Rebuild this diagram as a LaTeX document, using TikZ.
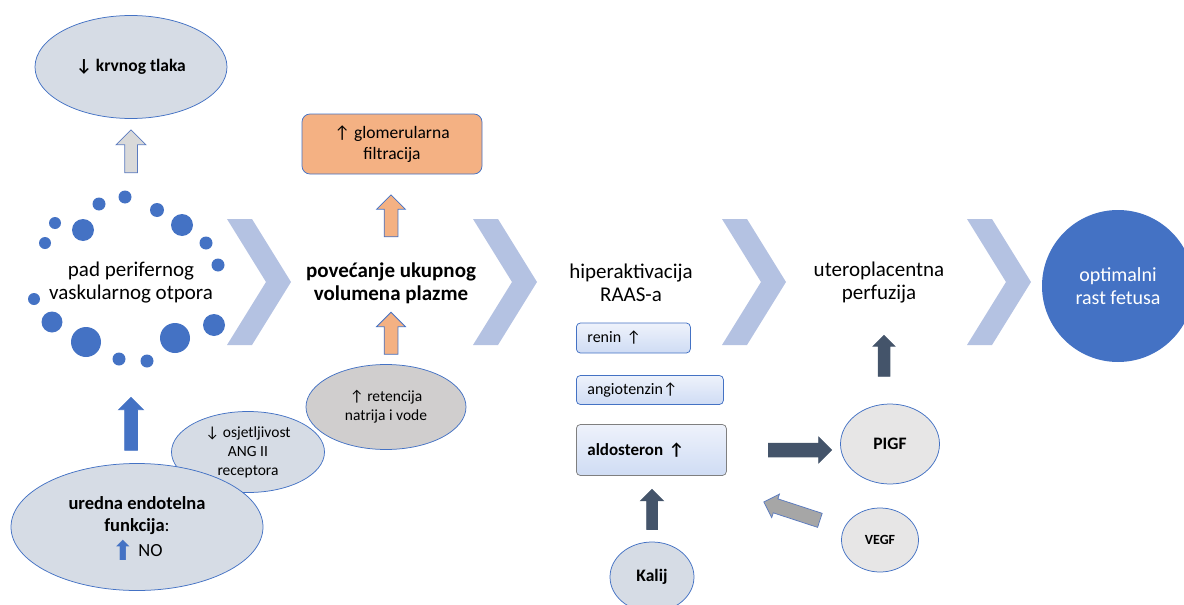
\documentclass[tikz,border=0pt]{standalone}
\usepackage{fontspec}
\setmainfont{Carlito}
\newfontfamily\arrfont{DejaVu Sans}
\usetikzlibrary{shapes.geometric,shapes.arrows}
\definecolor{blu}{HTML}{4472C4}
\definecolor{ellb}{HTML}{D6DCE5}
\definecolor{retf}{HTML}{D0CECE}
\definecolor{pgf}{HTML}{E7E6E6}
\definecolor{orng}{HTML}{F4B183}
\definecolor{drk}{HTML}{44546A}
\definecolor{mgry}{HTML}{A6A6A6}
\definecolor{ltgry}{HTML}{D9D9D9}
\definecolor{arrb}{HTML}{5B7BBF}
\definecolor{chev}{HTML}{B4C2E2}
\definecolor{bxtop}{HTML}{EEF2FB}
\definecolor{bxbot}{HTML}{CFDCF4}
\definecolor{gry}{HTML}{7F7F7F}
\newcommand{\arrup}{↑}
\newcommand{\arrdn}{↓}
\begin{document}
\begin{tikzpicture}[x=1pt,y=-1pt,
    txt/.style={align=center,inner sep=0pt},
    bubble/.style={ellipse,draw=blu,line width=.75pt,inner sep=0pt,align=center},
    bx/.style={rectangle,rounded corners=4pt,draw=blu,line width=.75pt,top color=bxtop,bottom color=bxbot,
        anchor=west,align=left,inner xsep=11pt,font=\fontsize{16}{19}\selectfont},
    fat/.style n args={3}{single arrow,sloped,allow upside down,anchor=tail,inner xsep=0pt,inner ysep={#2*0.5pt},
        minimum width={#3*1pt},minimum height={#1*1pt},single arrow head extend={(#3-#2)*0.5pt},line width=.75pt}]
    \useasboundingbox (0,0) rectangle (1184,605);
    \foreach \x in {227,473,722,967}
        \fill[chev] (\x,219) -- (\x+25,219) -- (\x+64,282) -- (\x+25,345) -- (\x,345) -- (\x+39,282) -- cycle;
    \foreach \x/\y/\r in
        { 125/197/6.5, 99/204/6.5, 157/210/7, 55/223/6, 83/230/11, 182/225/11
        , 45/243/6, 206/243/6.5, 218/265/6.5, 34/299/6, 52/322/10.5, 86/342/15
        , 119/359/6.5, 147/361/6.5, 175/338/15, 214/325/11
        }
        \fill[blu] (\x,\y) circle (\r pt);

    \node[bubble,fill=ellb,minimum width=192pt,minimum height=103pt,font=\bfseries\fontsize{17.5}{20}\selectfont] (krvni) at (131,67) {\arrdn\ krvnog tlaka};
    \node[txt,font=\fontsize{21}{23}\selectfont] (otpor) at (131,283) {pad perifernog\\vaskularnog otpora};
    \node[bubble,fill=ellb,minimum width=153pt,minimum height=81pt,font=\fontsize{15.5}{19}\selectfont] (angii) at (248,452) {\arrdn\ osjetljivost\\ANG II\\receptora};
    \node[bubble,fill=ellb,minimum width=252pt,minimum height=127pt,font=\fontsize{18.5}{22}\selectfont] (endo) at (137,527) {\textbf{uredna endotelna}\\\textbf{funkcija}:\\[3pt]{\color{blu}\arrfont\fontsize{27}{22}\selectfont\smash{\raisebox{-4pt}{⬆}}}\ NO};

    \node[rectangle,rounded corners=8pt,draw=blu,line width=.75pt,fill=orng,align=center,minimum width=180pt,minimum height=60pt,font=\fontsize{17.5}{21}\selectfont] (glom) at (392,144) {\arrup\ glomerularna\\filtracija};
    \node[txt,font=\bfseries\fontsize{21}{23}\selectfont] (vol) at (391,283) {povećanje ukupnog\\volumena plazme};
    \node[bubble,fill=retf,minimum width=160pt,minimum height=85pt,font=\fontsize{15.5}{19}\selectfont] (ret) at (386,407) {\arrup\ retencija\\natrija i vode};

    \node[txt,font=\fontsize{21}{23}\selectfont] (raas) at (631,283) {hiperaktivacija\\RAAS-a};
    \node[bx,text width=92pt,minimum height=30pt] (renin) at (576,338) {renin \arrup};
    \node[bx,text width=125pt,minimum height=29pt] (angio) at (576,390) {angiotenzin\arrup};
    \node[bx,draw=gry,text width=128pt,minimum height=51pt,font=\bfseries\fontsize{17}{20}\selectfont] (aldo) at (576,450) {aldosteron \arrup};
    \node[bubble,fill=ellb,minimum width=84pt,minimum height=70pt,font=\bfseries\fontsize{17.5}{20}\selectfont] (kalij) at (652,577) {Kalij};

    \node[txt,font=\fontsize{21}{23}\selectfont] (utero) at (879,283) {uteroplacentna\\perfuzija};
    \node[bubble,fill=pgf,minimum width=99pt,minimum height=80pt,font=\bfseries\fontsize{17.5}{20}\selectfont] (pigf) at (890,444) {PIGF};
    \node[bubble,fill=pgf,minimum width=77pt,minimum height=64pt,font=\bfseries\fontsize{14}{16}\selectfont] (vegf) at (880,540) {VEGF};
    \node[circle,fill=blu,text=white,minimum size=152pt,inner sep=0pt,align=center,font=\fontsize{20}{23}\selectfont] (fetus) at (1118,286) {optimalni\\rast fetusa};

    \path (otpor.center) -- node[fat={43}{12}{29},pos=.669,fill=ltgry,draw=arrb] {} (krvni.south);
    \path (otpor |- endo.north) -- node[fat={53}{12}{24},pos=.069,fill=blu,draw=blu] {} (otpor.center);
    \path (vol.center) -- node[fat={42}{13}{28},pos=.422,fill=orng,draw=blu] {} (vol |- glom.south);
    \path (vol |- ret.north) -- node[fat={42}{13}{28},pos=.117,fill=orng,draw=blu] {} (vol.center);
    \path (aldo.east) -- node[fat={63}{13}{25},pos=.365,fill=drk,draw=drk] {} (pigf.west |- aldo.east);
    \path ([xshift=-6pt]pigf.north) -- node[fat={41}{11}{21},pos=.223,fill=drk,draw=drk] {} ([xshift=-6pt]pigf.north |- utero);
    \path (kalij.north) -- node[fat={40}{10}{22},pos=.18,fill=drk,draw=drk] {} (kalij.north |- aldo.south);
    \path (vegf.center) -- node[fat={59}{14}{24},pos=.39,fill=mgry,draw=arrb] {} ([yshift=-14pt]aldo.south east);
\end{tikzpicture}
\end{document}
